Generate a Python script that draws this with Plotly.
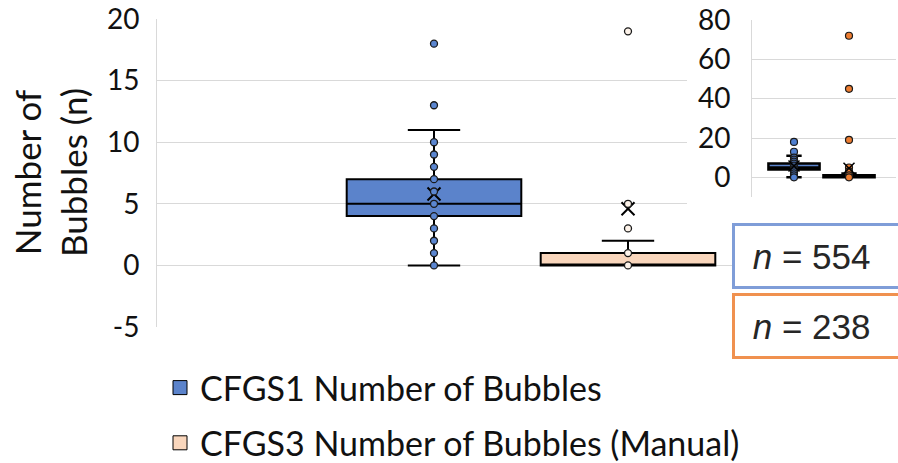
import plotly.graph_objects as go

# ---------------- data ----------------
series_names = ["CFGS1 Number of Bubbles", "CFGS3 Number of Bubbles (Manual)"]
positions = [0, 1]
q1_vals = [4, 0]
median_vals = [5, 0]
q3_vals = [7, 1]
lower_whisker = [0, 0]
upper_whisker = [11, 2]
mean_vals = [5.8, 4.6]
cfgs1_points = [18, 13, 10, 9, 8, 7, 6, 5, 4, 3, 2, 1, 0]
cfgs3_points = [72, 45, 19, 5, 3, 1, 0]
n_counts = [554, 238]
main_ticks = [-5, 0, 5, 10, 15, 20]
main_tick_labels = ["-5", "0", "5", "10", "15", "20"]
inset_ticks = [0, 20, 40, 60, 80]

# ---------------- style ----------------
W, H = 898, 463
box_fill = ["#5B83CB", "#F9D6BC"]
point_fill = ["#5B86D0", "#FDF3EA"]
inset_point_fill = ["#4F7FD0", "#EE7D31"]
n_border = ["#7F9DD8", "#F0914F"]
TICK_FONT = dict(family="Lato", size=28, color="#111111")
GRID = "#D9D9D9"

def px_x(p):
    return p / W

def px_y(p):
    return (H - p) / H

fig = go.Figure()
points = [cfgs1_points, cfgs3_points]

# ---- main subplot (x, y) ----
for i in range(2):
    fig.add_trace(go.Box(
        x=[positions[i]], q1=[q1_vals[i]], median=[median_vals[i]], q3=[q3_vals[i]],
        lowerfence=[lower_whisker[i]], upperfence=[upper_whisker[i]],
        width=0.9, whiskerwidth=0.3, fillcolor=box_fill[i],
        line=dict(color="black", width=2), boxpoints=False,
        showlegend=False, hoverinfo="skip", xaxis="x", yaxis="y"))
fig.add_trace(go.Scatter(
    x=positions, y=mean_vals, mode="markers",
    marker=dict(symbol="x-thin", size=13, line=dict(color="black", width=2)),
    showlegend=False, hoverinfo="skip", xaxis="x", yaxis="y"))
for i in range(2):
    fig.add_trace(go.Scatter(
        x=[positions[i]] * len(points[i]), y=points[i], mode="markers",
        marker=dict(size=7, color=point_fill[i], line=dict(color="#1a1a1a", width=1.3)),
        showlegend=False, hoverinfo="skip", xaxis="x", yaxis="y"))

# ---- cover subplot (x2, y2): white background over main gridlines ----
fig.add_trace(go.Scatter(x=[None], y=[None], mode="markers", showlegend=False,
                         hoverinfo="skip", xaxis="x2", yaxis="y2"))

# ---- inset subplot (x3, y3) ----
for i in range(2):
    fig.add_trace(go.Box(
        x=[positions[i]], q1=[q1_vals[i]], median=[median_vals[i]], q3=[q3_vals[i]],
        lowerfence=[lower_whisker[i]], upperfence=[upper_whisker[i]],
        width=0.93, whiskerwidth=0.3, fillcolor=box_fill[0] if i == 0 else "#F4B183",
        line=dict(color="black", width=2.5), boxpoints=False,
        showlegend=False, hoverinfo="skip", xaxis="x3", yaxis="y3"))
for i in range(2):
    fig.add_trace(go.Scatter(
        x=[positions[i]] * len(points[i]), y=points[i], mode="markers",
        marker=dict(size=7, color=inset_point_fill[i], line=dict(color="#1a1a1a", width=1.2)),
        showlegend=False, hoverinfo="skip", xaxis="x3", yaxis="y3"))
fig.add_trace(go.Scatter(
    x=positions, y=mean_vals, mode="markers",
    marker=dict(symbol="x-thin", size=11, line=dict(color="black", width=1.5)),
    showlegend=False, hoverinfo="skip", xaxis="x3", yaxis="y3"))

# ---- legend entries ----
for i in range(2):
    fig.add_trace(go.Scatter(
        x=[None], y=[None], mode="markers", name=series_names[i], legendgroup=f"g{i}",
        marker=dict(symbol="square", size=14, color=box_fill[i], line=dict(color="black", width=1)),
        xaxis="x", yaxis="y"))

# ---- axes ----
unit = 628 - 434
fig.update_layout(
    xaxis=dict(domain=[px_x(157), 1.0], range=[(157 - 434) / unit, (898 - 434) / unit],
               showgrid=False, zeroline=False, showticklabels=False, showline=False, fixedrange=True),
    yaxis=dict(domain=[px_y(327), px_y(19)], range=[-5, 20],
               tickvals=main_ticks, ticktext=main_tick_labels,
               showgrid=True, gridcolor=GRID, gridwidth=1, zeroline=False,
               showline=True, linecolor=GRID, linewidth=1, ticks="",
               tickfont=TICK_FONT, ticklabelstandoff=11, anchor="x"),
    xaxis2=dict(domain=[px_x(687), 1.0], visible=False, anchor="y2", range=[0, 1]),
    yaxis2=dict(domain=[px_y(215), 1.0], visible=False, anchor="x2", range=[0, 1]),
    xaxis3=dict(domain=[px_x(752), px_x(896)],
                range=[(752 - 794) / 55, (896 - 794) / 55],
                showgrid=False, zeroline=False, showticklabels=False, showline=False, anchor="y3"),
    yaxis3=dict(domain=[px_y(197), px_y(20)], range=[-10, 80], tickvals=inset_ticks,
                showgrid=True, gridcolor=GRID, gridwidth=1, zeroline=False,
                showline=True, linecolor=GRID, linewidth=1, ticks="",
                tickfont=TICK_FONT, ticklabelstandoff=15, anchor="x3"),
)

annotations = [
    dict(text="Number of<br>Bubbles (n)", textangle=-90, xref="paper", yref="paper",
         x=px_x(50), y=px_y(173), xanchor="center", yanchor="middle", showarrow=False,
         font=dict(family="Lato", size=35, color="#111111")),
]
n_tops = [223, 293]
for i in range(2):
    annotations.append(dict(
        text=f"&nbsp;<i>n</i> = {n_counts[i]}", xref="paper", yref="paper",
        x=px_x(732), y=px_y(n_tops[i]), xanchor="left", yanchor="top",
        showarrow=False, align="left", valign="middle", width=200, height=44,
        borderpad=8, borderwidth=3, bordercolor=n_border[i], bgcolor="white",
        font=dict(family="Liberation Sans", size=35, color="#262626")))

fig.update_layout(
    width=W, height=H, margin=dict(l=0, r=0, t=0, b=0, autoexpand=False),
    paper_bgcolor="white", plot_bgcolor="white",
    boxmode="overlay",
    showlegend=True,
    legend=dict(x=px_x(160), y=px_y(359), xanchor="left", yanchor="top",
                traceorder="grouped", tracegroupgap=8,
                font=dict(family="Lato", size=34, color="#111111"),
                bgcolor="rgba(0,0,0,0)", itemwidth=30),
    annotations=annotations,
)

fig.write_html("out.html")
